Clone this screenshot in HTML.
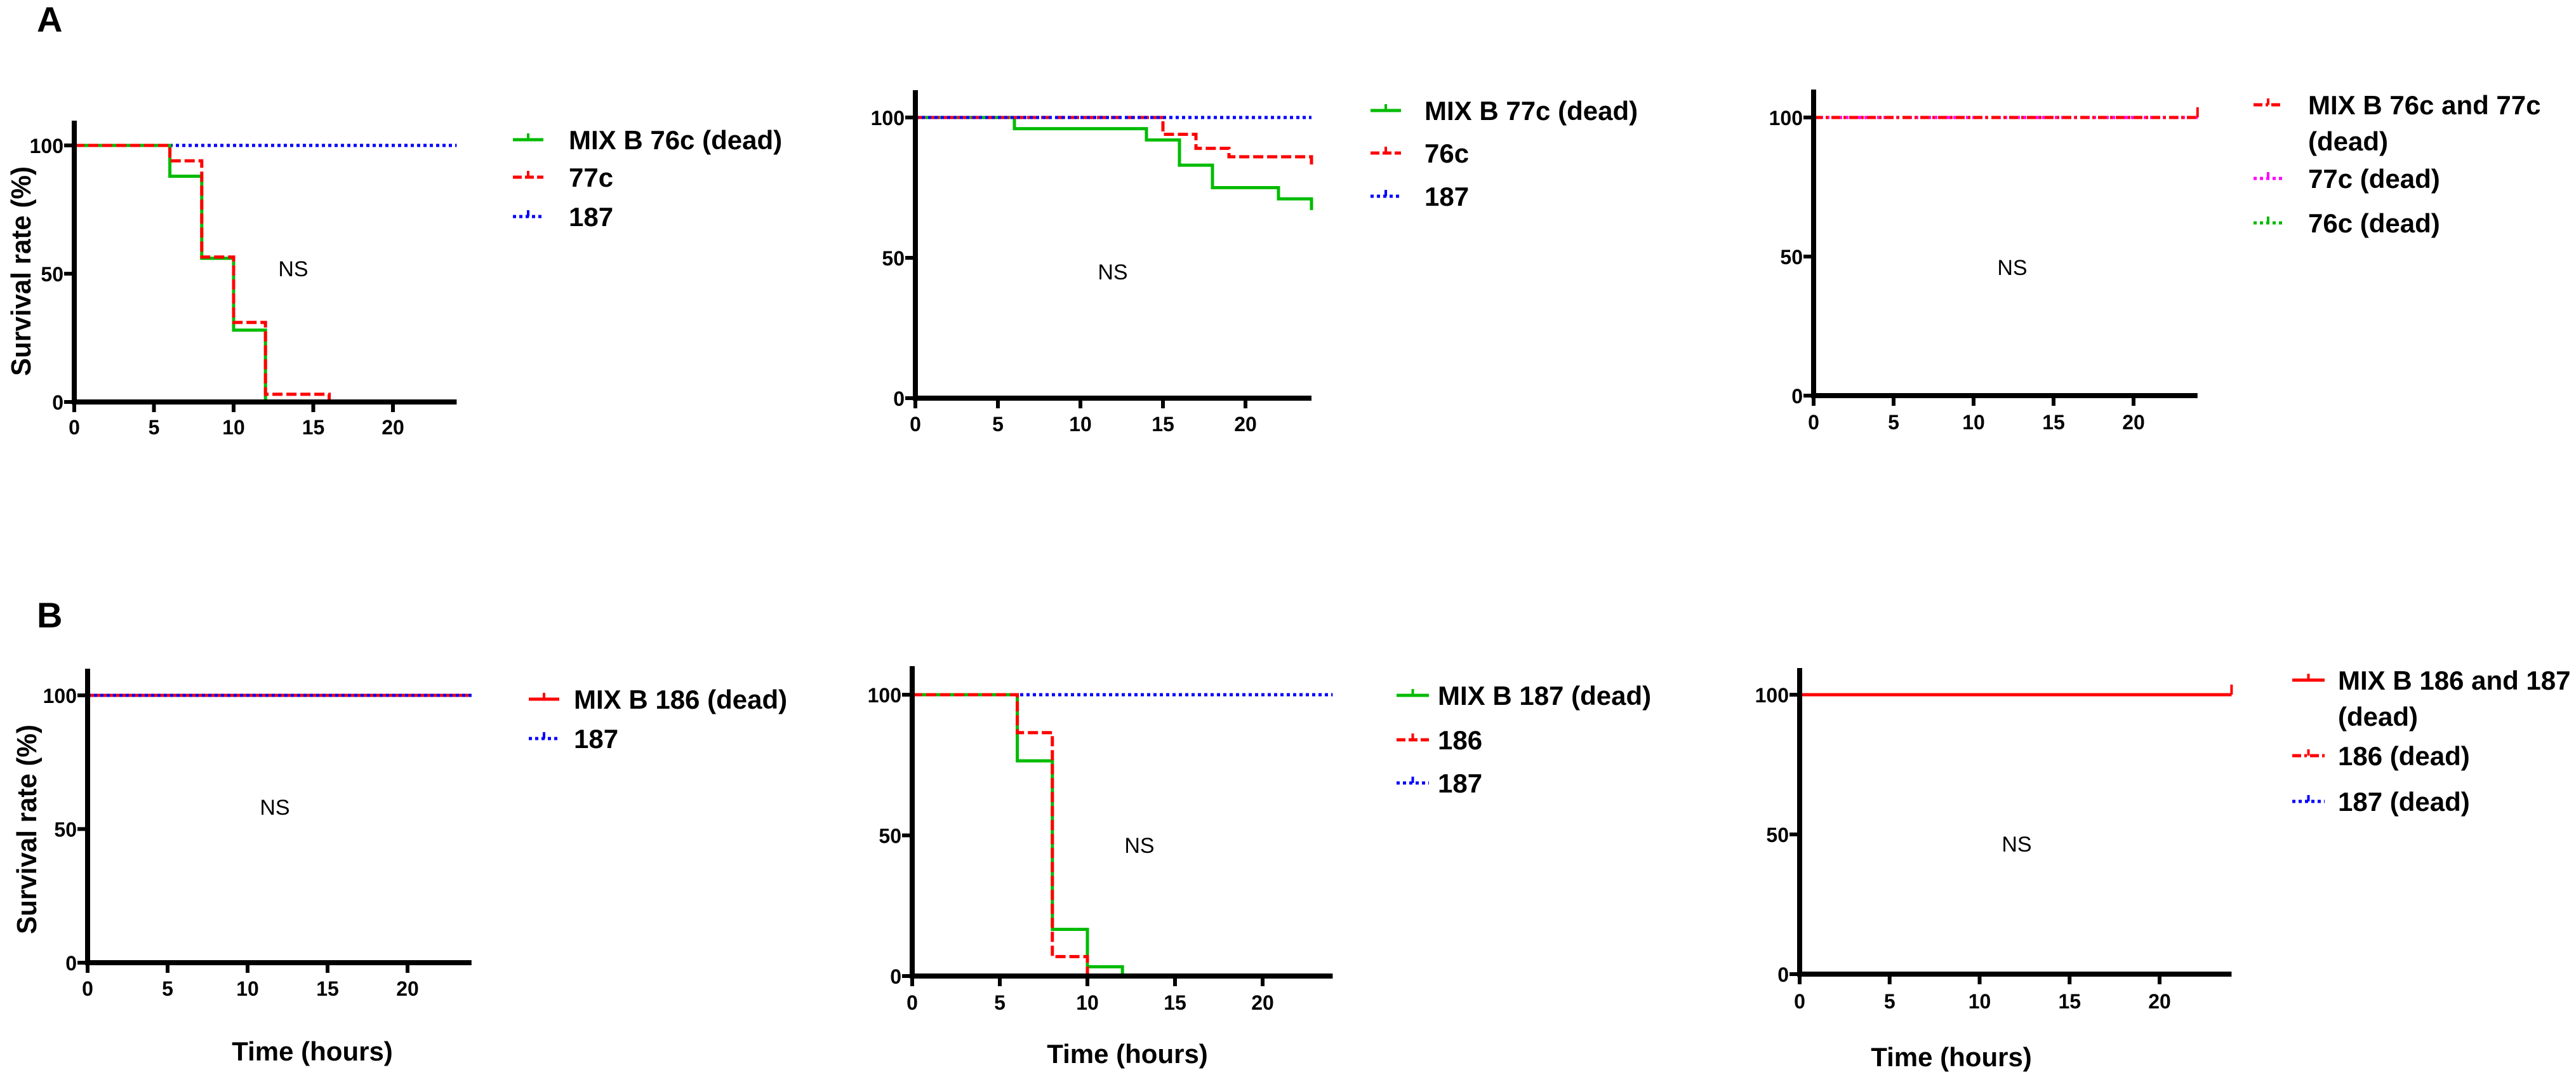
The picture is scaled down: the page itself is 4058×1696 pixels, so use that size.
<!DOCTYPE html>
<html><head><meta charset="utf-8"><style>
html,body{margin:0;padding:0;background:#fff;}
svg{display:block;font-family:"Liberation Sans",Arial,sans-serif;}
</style></head><body>
<svg id="fig" width="4058" height="1696" viewBox="0 0 4058 1696" xmlns="http://www.w3.org/2000/svg">
<text x="58" y="50" font-size="56" font-weight="bold">A</text>
<text x="58" y="988" font-size="56" font-weight="bold">B</text>
</svg>
<script>
// ---- data ----
const xTicks = [0, 5, 10, 15, 20];
const yTicks = [0, 50, 100];
// Panel A1
const a1GreenT = [0, 6, 8, 10, 12];
const a1GreenS = [100, 88, 56, 28, 0];
const a1RedT = [0, 6, 8, 10, 12, 16];
const a1RedS = [100, 94, 56.5, 31, 3, 0];
const a1BlueT = [0, 24];
const a1BlueS = [100, 100];
// Panel A2
const a2GreenT = [0, 6, 14, 16, 18, 22, 24];
const a2GreenS = [100, 96, 92, 83, 75, 71, 67];
const a2RedT = [0, 15, 17, 19, 24];
const a2RedS = [100, 94, 89, 86, 83];
const a2BlueT = [0, 24];
const a2BlueS = [100, 100];
// Panel A3
const a3MixT = [0, 24];
const a3MixS = [100, 100];
const a3C77T = [0, 24];
const a3C77S = [100, 100];
const a3C76T = [0, 24];
const a3C76S = [100, 100];
// Panel B1
const b1MixT = [0, 24];
const b1MixS = [100, 100];
const b1BlueT = [0, 24];
const b1BlueS = [100, 100];
// Panel B2
const b2GreenT = [0, 6, 8, 10, 12];
const b2GreenS = [100, 76.5, 16.6, 3.3, 0];
const b2RedT = [0, 6, 8, 10];
const b2RedS = [100, 86.5, 6.9, 0];
const b2BlueT = [0, 24];
const b2BlueS = [100, 100];
// Panel B3
const b3MixT = [0, 24];
const b3MixS = [100, 100];
const b3C186T = [0, 24];
const b3C186S = [100, 100];
const b3C187T = [0, 24];
const b3C187S = [100, 100];

const NS = 'http://www.w3.org/2000/svg';
const svg = document.getElementById('fig');
function mk(tag, attrs, parent) {
  const e = document.createElementNS(NS, tag);
  for (const k in attrs) e.setAttribute(k, attrs[k]);
  (parent || svg).appendChild(e);
  return e;
}
const STY = {
  solid: '',
  dash: '16 6',
  dot: '5 5',
  dashdot: '14 5 4 5'
};

function panel(p) {
  const g = mk('g', {});
  
  
  const sx = t => p.x0 + t * p.unit;
  const sy = v => p.y0 - (p.y0 - p.y100) * v / 100;
  p.series.forEach(s => {
    let d = 'M' + sx(s.t[0]) + ' ' + sy(s.s[0]);
    for (let i = 1; i < s.t.length; i++) {
      d += ' H' + sx(s.t[i]) + ' V' + sy(s.s[i]);
    }
    if (s.t[s.t.length - 1] < 24 && s.s[s.s.length - 1] > 0) d += ' H' + sx(24);
    const path = mk('path', {d: d, fill: 'none', stroke: s.color, 'stroke-width': 5}, g);
    if (STY[s.style]) path.setAttribute('stroke-dasharray', STY[s.style]);
    
    
    if (s.censor) {
      const last = s.s[s.s.length - 1];
      const ct = mk('line', {x1: sx(24), x2: sx(24), y1: sy(last), y2: sy(last) - 16, stroke: s.color, 'stroke-width': 4}, g);
      
      
    }
  });
  const ya = mk('line', {x1: p.x0, x2: p.x0, y1: p.top, y2: p.y0 + 4, stroke: '#000', 'stroke-width': 8}, g);
  
  
  const xa = mk('line', {x1: p.x0 - 4, x2: sx(24), y1: p.y0, y2: p.y0, stroke: '#000', 'stroke-width': 8}, g);
  
  
  yTicks.forEach(v => {
    const tk = mk('line', {x1: p.x0 - 16, x2: p.x0, y1: sy(v), y2: sy(v), stroke: '#000', 'stroke-width': 6}, g);
    
    
    const tl = mk('text', {x: p.x0 - 17, y: sy(v) + 12, 'font-size': 32, 'font-weight': 'bold', 'text-anchor': 'end'}, g);
    tl.textContent = v;
    
    
  });
  xTicks.forEach(v => {
    const tk = mk('line', {x1: sx(v), x2: sx(v), y1: p.y0, y2: p.y0 + 16, stroke: '#000', 'stroke-width': 6}, g);
    
    
    const tl = mk('text', {x: sx(v), y: p.tickY + 12, 'font-size': 32, 'font-weight': 'bold', 'text-anchor': 'middle'}, g);
    tl.textContent = v;
    
    
  });
  const ns = mk('text', {x: p.nsX, y: p.nsY + 12, 'font-size': 34, 'text-anchor': 'middle'}, g);
  ns.textContent = 'NS';
  
  
  if (p.yTitle) {
    const yt = mk('text', {x: 0, y: 0, 'font-size': 44, 'font-weight': 'bold', 'text-anchor': 'middle', textLength: 330, lengthAdjust: 'spacingAndGlyphs', transform: 'translate(' + (p.yTitle[0] + 15) + ',' + p.yTitle[1] + ') rotate(-90)'}, g);
    yt.textContent = 'Survival rate (%)';
    
    
  }
  if (p.xTitle) {
    const xt = mk('text', {x: p.xTitle[0], y: p.xTitle[1] + 15, 'font-size': 42, 'font-weight': 'bold', 'text-anchor': 'middle'}, g);
    xt.textContent = 'Time (hours)';
    
    
  }
  p.legend.forEach(l => {
    const s = p.series.find(q => q.key === l.key);
    const lg = mk('g', {}, g);
    
    
    const ln = mk('line', {x1: p.lgX1, x2: p.lgX2, y1: l.y, y2: l.y, stroke: s.color, 'stroke-width': 5}, lg);
    if (STY[s.style]) ln.setAttribute('stroke-dasharray', STY[s.style] === STY.dash ? '14 5' : STY[s.style]);
    
    
    const mx = (p.lgX1 + p.lgX2) / 2;
    const tk = mk('line', {x1: mx, x2: mx, y1: l.y, y2: l.y - 10, stroke: s.color, 'stroke-width': 4}, lg);
    
    
    l.lines.forEach((txt, i) => {
      const t = mk('text', {x: p.lgTX, y: l.y + 15 + i * 57, 'font-size': 42, 'font-weight': 'bold'}, lg);
      t.textContent = txt;
      
      
    });
  });
}

panel({name: 'panel-a1', x0: 117, unit: 25.1, y0: 633, y100: 229, top: 190, tickY: 672, nsX: 462, nsY: 423,
  yTitle: [33, 427], lgX1: 808, lgX2: 856, lgTX: 896,
  series: [
    {key: 'a1-187', t: a1BlueT, s: a1BlueS, color: '#0000ff', style: 'dot'},
    {key: 'a1-mix-76c', t: a1GreenT, s: a1GreenS, color: '#00bb00', style: 'solid'},
    {key: 'a1-77c', t: a1RedT, s: a1RedS, color: '#ff0000', style: 'dash'}
  ],
  legend: [{key: 'a1-mix-76c', y: 220, lines: ['MIX B 76c (dead)']}, {key: 'a1-77c', y: 279, lines: ['77c']}, {key: 'a1-187', y: 341, lines: ['187']}]
});
panel({name: 'panel-a2', x0: 1442, unit: 26, y0: 627, y100: 185, top: 142, tickY: 667, nsX: 1753, nsY: 428,
  lgX1: 2159, lgX2: 2207, lgTX: 2244,
  series: [
    {key: 'a2-mix-77c', t: a2GreenT, s: a2GreenS, color: '#00bb00', style: 'solid'},
    {key: 'a2-76c', t: a2RedT, s: a2RedS, color: '#ff0000', style: 'dash'},
    {key: 'a2-187', t: a2BlueT, s: a2BlueS, color: '#0000ff', style: 'dot'}
  ],
  legend: [{key: 'a2-mix-77c', y: 174, lines: ['MIX B 77c (dead)']}, {key: 'a2-76c', y: 241, lines: ['76c']}, {key: 'a2-187', y: 309, lines: ['187']}]
});
panel({name: 'panel-a3', x0: 2857, unit: 25.2, y0: 623, y100: 185, top: 141, tickY: 664, nsX: 3170, nsY: 421,
  lgX1: 3550, lgX2: 3596, lgTX: 3636,
  series: [
    {key: 'a3-76c', t: a3C76T, s: a3C76S, color: '#00bb00', style: 'dot'},
    {key: 'a3-77c', t: a3C77T, s: a3C77S, color: '#ff00ff', style: 'dot'},
    {key: 'a3-mix', t: a3MixT, s: a3MixS, color: '#ff0000', style: 'dashdot', censor: true}
  ],
  legend: [{key: 'a3-mix', y: 165, lines: ['MIX B 76c and 77c', '(dead)']}, {key: 'a3-77c', y: 281, lines: ['77c (dead)']}, {key: 'a3-76c', y: 351, lines: ['76c (dead)']}]
});
panel({name: 'panel-b1', x0: 138, unit: 25.2, y0: 1516, y100: 1095, top: 1053, tickY: 1556, nsX: 433, nsY: 1271,
  yTitle: [42, 1306], xTitle: [492, 1655], lgX1: 833, lgX2: 881, lgTX: 904,
  series: [
    {key: 'b1-mix-186', t: b1MixT, s: b1MixS, color: '#ff0000', style: 'solid'},
    {key: 'b1-187', t: b1BlueT, s: b1BlueS, color: '#0000ff', style: 'dot'}
  ],
  legend: [{key: 'b1-mix-186', y: 1101, lines: ['MIX B 186 (dead)']}, {key: 'b1-187', y: 1163, lines: ['187']}]
});
panel({name: 'panel-b2', x0: 1437, unit: 27.6, y0: 1537, y100: 1094, top: 1049, tickY: 1578, nsX: 1795, nsY: 1331,
  xTitle: [1776, 1659], lgX1: 2200, lgX2: 2251, lgTX: 2265,
  series: [
    {key: 'b2-187', t: b2BlueT, s: b2BlueS, color: '#0000ff', style: 'dot'},
    {key: 'b2-mix-187', t: b2GreenT, s: b2GreenS, color: '#00bb00', style: 'solid'},
    {key: 'b2-186', t: b2RedT, s: b2RedS, color: '#ff0000', style: 'dash'}
  ],
  legend: [{key: 'b2-mix-187', y: 1095, lines: ['MIX B 187 (dead)']}, {key: 'b2-186', y: 1165, lines: ['186']}, {key: 'b2-187', y: 1233, lines: ['187']}]
});
panel({name: 'panel-b3', x0: 2835, unit: 28.35, y0: 1534, y100: 1094, top: 1052, tickY: 1576, nsX: 3177, nsY: 1329,
  xTitle: [3074, 1664], lgX1: 3611, lgX2: 3662, lgTX: 3683,
  series: [
    {key: 'b3-187', t: b3C187T, s: b3C187S, color: '#0000ff', style: 'dot'},
    {key: 'b3-186', t: b3C186T, s: b3C186S, color: '#ff0000', style: 'dashdot'},
    {key: 'b3-mix', t: b3MixT, s: b3MixS, color: '#ff0000', style: 'solid', censor: true}
  ],
  legend: [{key: 'b3-mix', y: 1071, lines: ['MIX B 186 and 187', '(dead)']}, {key: 'b3-186', y: 1190, lines: ['186 (dead)']}, {key: 'b3-187', y: 1262, lines: ['187 (dead)']}]
});
</script>
</body></html>
